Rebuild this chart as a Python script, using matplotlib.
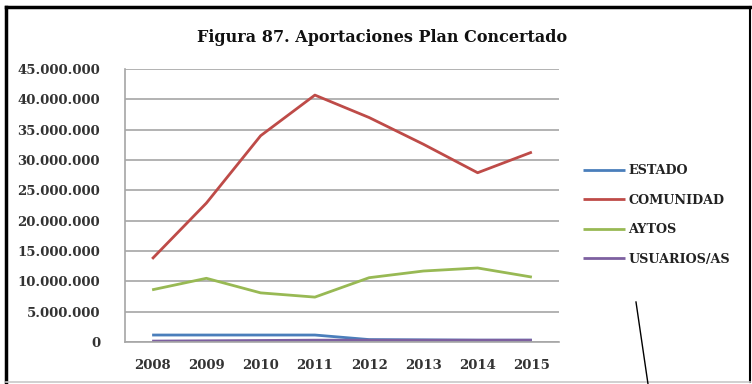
import matplotlib
matplotlib.use("Agg")
import matplotlib.pyplot as plt
from matplotlib.lines import Line2D
from matplotlib.ticker import FuncFormatter, MultipleLocator

years = ["2008", "2009", "2010", "2011", "2012", "2013", "2014", "2015"]
estado = [1150000, 1150000, 1150000, 1150000, 400000, 350000, 300000, 300000]
comunidad = [13700000, 22900000, 34000000, 40700000, 37000000, 32600000, 27900000, 31300000]
aytos = [8600000, 10500000, 8100000, 7400000, 10600000, 11700000, 12200000, 10700000]
usuarios = [150000, 200000, 250000, 300000, 300000, 300000, 300000, 300000]

series = [
    ("ESTADO", estado, "#4a7ebb"),
    ("COMUNIDAD", comunidad, "#be4b48"),
    ("AYTOS", aytos, "#98b954"),
    ("USUARIOS/AS", usuarios, "#7d60a0"),
]

plt.rcParams["font.family"] = ["DejaVu Serif"]
plt.rcParams["font.weight"] = "bold"

W, H = 752, 384
fig = plt.figure(figsize=(W / 100, H / 100), dpi=100)
ax = fig.add_axes([125 / W, 42 / H, 434 / W, 273 / H])

x = list(range(len(years)))
for name, vals, color in series:
    ax.plot(x, vals, color=color, lw=2.0, label=name, solid_capstyle="butt")

ax.set_xlim(-0.5, len(years) - 0.5)
ax.set_ylim(0, 45000000)
ax.yaxis.set_major_locator(MultipleLocator(5000000))
ax.yaxis.set_major_formatter(FuncFormatter(lambda v, p: f"{int(v):,}".replace(",", ".")))
ax.set_xticks(x)
ax.set_xticklabels(years)
ax.tick_params(axis="both", length=0, labelsize=9.5, colors="#333333")
ax.tick_params(axis="y", pad=18)
ax.tick_params(axis="x", pad=12)
ax.grid(axis="y", color="#a6a6a6", lw=1.2)
ax.set_axisbelow(True)
for side in ["top", "right"]:
    ax.spines[side].set_visible(False)
for side in ["left", "bottom"]:
    ax.spines[side].set_color("#a6a6a6")
    ax.spines[side].set_linewidth(1.2)

fig.text(382 / W, 1 - 37 / H, "Figura 87. Aportaciones Plan Concertado",
         ha="center", va="center", fontsize=11.5, fontweight="bold", color="#111111")

fig.legend(loc="upper left", bbox_to_anchor=(583 / W, 1 - 164 / H), frameon=False,
           fontsize=9.2, handlelength=3.3, handletextpad=0.25, labelspacing=1.3,
           borderpad=0, borderaxespad=0, labelcolor="#222222")

# frame around the picture and stray pen line
fig.add_artist(Line2D([6 / W, 6 / W], [1 - 7 / H, 1 - 382 / H], color="black", lw=2.5))
fig.add_artist(Line2D([6 / W, 750 / W], [1 - 7 / H, 1 - 7 / H], color="black", lw=2.5))
fig.add_artist(Line2D([750 / W, 750 / W], [1 - 7 / H, 1 - 382 / H], color="black", lw=1.5))
fig.add_artist(Line2D([6 / W, 750 / W], [1 - 382 / H, 1 - 382 / H], color="#c8c8c8", lw=1.2))
fig.add_artist(Line2D([636 / W, 648 / W], [1 - 302 / H, 0], color="black", lw=1.0))

fig.savefig("out.png", dpi=100)
